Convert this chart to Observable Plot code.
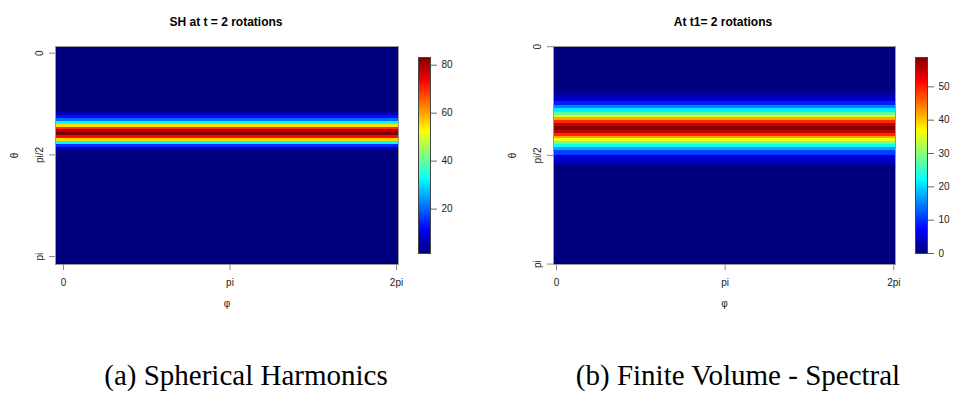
<!DOCTYPE html>
<html><head><meta charset="utf-8">
<script src="https://cdn.jsdelivr.net/npm/d3@7"></script>
<script src="https://cdn.jsdelivr.net/npm/@observablehq/plot@0.6"></script>
<style>
body{margin:0;background:#fff;}
#root{position:relative;width:954px;height:400px;overflow:hidden;font-family:"Liberation Sans",Arial,sans-serif;}
#root svg{position:absolute;top:0;overflow:visible;}
.title{position:absolute;top:15.8px;font:bold 12px/1 "Liberation Sans",Arial,sans-serif;transform:translateX(-50%);white-space:nowrap;color:#000;}
.caption{position:absolute;top:361px;font:29px/1 "Liberation Serif","Times New Roman",serif;transform:translateX(-50%);white-space:nowrap;color:#000;}
</style></head><body><div id="root"></div>
<script>
// ---------- data ----------
const titles = ["SH at t = 2 rotations", "At t1= 2 rotations"];
const captions = ["(a) Spherical Harmonics", "(b) Finite Volume - Spectral"];
const xLabel = "φ";
const yLabel = "θ";
const xTickValues = [0, 1, 2];          // phi in units of pi
const xTickLabels = ["0", "pi", "2pi"];
const yTickValues = [0, 0.5, 1];        // theta in units of pi
const yTickLabels = ["0", "pi/2", "pi"];

// panel (a): theta profile (row edges in units of pi) and values
const phiExtentA = [-0.048, 2.012];
const thetaEdgesA = [-0.033, 0.2902, 0.3064, 0.3187, 0.3360, 0.3507, 0.3640, 0.3768, 0.3886, 0.4050, 0.4181, 0.4329, 0.4491, 0.4653, 0.4786, 1.039];
const valuesA = [1.5, 6, 13, 20, 32, 55, 70, 78, 83, 72, 56, 32, 15, 7, 1.5];
const colorExtentA = [1.5, 83.2];
const colorTicksA = [20, 40, 60, 80];

// panel (b)
const phiExtentB = [-0.018, 2.010];
const thetaEdgesB = [-0.001, 0.206, 0.2244, 0.2507, 0.2705, 0.2857, 0.3014, 0.3166, 0.3272, 0.3396, 0.3521, 0.3673, 0.3857, 0.4009, 0.4134, 0.4240, 0.4364, 0.4502, 0.4627, 0.4779, 0.5009, 0.5318, 0.547, 1.002];
const valuesB = [0, 2, 4, 9, 15, 21, 28, 35, 42, 49, 55, 58.5, 55, 49, 42, 36, 29, 23, 17, 11, 5, 2, 0];
const colorExtentB = [0, 58.8];
const colorTicksB = [0, 10, 20, 30, 40, 50];

// jet palette
const jet = ["#00007F", "#0000FF", "#007FFF", "#00FFFF", "#7FFF7F", "#FFFF00", "#FF7F00", "#FF0000", "#7F0000"];

// ---------- drawing ----------
const root = document.getElementById("root");
const font = {fontFamily: "Liberation Sans, Arial, sans-serif", fontSize: "10px", color: "#222", background: "transparent"};

function colorScale(ext) {
  const n = jet.length;
  return {type: "linear", domain: jet.map((_, i) => ext[0] + i * (ext[1] - ext[0]) / (n - 1)), range: jet, interpolate: "rgb", clamp: true};
}

function panel(cfg) {
  const rows = cfg.values.map((v, i) => ({y1: cfg.edges[i], y2: cfg.edges[i + 1], v}));
  const color = colorScale(cfg.cext);
  const main = Plot.plot({
    width: 477, height: 320,
    marginLeft: cfg.ml, marginRight: 477 - cfg.fr, marginTop: 46, marginBottom: 56,
    x: {domain: cfg.phi},
    y: {domain: [cfg.edges[0], cfg.edges[cfg.edges.length - 1]], reverse: true},
    color,
    style: font,
    marks: [
      Plot.rect(rows, {x1: () => cfg.phi[0], x2: () => cfg.phi[1], y1: "y1", y2: "y2", fill: "v", shapeRendering: "crispEdges"}),
      Plot.frame({stroke: "#9a9a9a", strokeWidth: 1}),
      Plot.axisX(xTickValues, {tickFormat: d => xTickLabels[xTickValues.indexOf(d)], tickSize: 6, tickPadding: 8, stroke: "#888", fill: "#222", label: xLabel, labelArrow: "none", labelAnchor: "center", labelOffset: 42}),
      Plot.axisY(yTickValues, {tickFormat: d => yTickLabels[yTickValues.indexOf(d)], tickSize: 6, tickPadding: 7, tickRotate: -90, stroke: "#888", fill: "#222", label: yLabel, labelArrow: "none", labelAnchor: "center", labelOffset: 45})
    ]
  });
  main.style.left = cfg.left + "px";
  root.appendChild(main);

  const nSteps = 200;
  const step = (cfg.cext[1] - cfg.cext[0]) / nSteps;
  const steps = d3.range(nSteps).map(i => cfg.cext[0] + i * step);
  const bar = Plot.plot({
    width: 60, height: 320, marginLeft: 0, marginRight: 48, marginTop: 57, marginBottom: 67,
    x: {axis: null, domain: [0, 1]},
    y: {domain: cfg.cext},
    color,
    style: font,
    marks: [
      Plot.rect(steps, {x1: () => 0, x2: () => 1, y1: d => d, y2: d => d + step, fill: d => d + step / 2, shapeRendering: "crispEdges"}),
      Plot.frame({stroke: "#444", strokeWidth: 1}),
      Plot.axisY(cfg.cticks, {anchor: "right", tickSize: 6, tickPadding: 5, stroke: "#666", fill: "#222", label: null})
    ]
  });
  bar.style.left = cfg.barLeft + "px";
  root.appendChild(bar);

  const t = document.createElement("div");
  t.className = "title"; t.textContent = cfg.title; t.style.left = cfg.titleX + "px";
  root.appendChild(t);
  const c = document.createElement("div");
  c.className = "caption"; c.textContent = cfg.caption; c.style.left = cfg.capX + "px";
  root.appendChild(c);
}

panel({left: 0, ml: 55, fr: 398, phi: phiExtentA, edges: thetaEdgesA, values: valuesA, cext: colorExtentA, cticks: colorTicksA, barLeft: 418, title: titles[0], titleX: 226, caption: captions[0], capX: 246});
panel({left: 477, ml: 76, fr: 418, phi: phiExtentB, edges: thetaEdgesB, values: valuesB, cext: colorExtentB, cticks: colorTicksB, barLeft: 915, title: titles[1], titleX: 723, caption: captions[1], capX: 738});
</script></body></html>
